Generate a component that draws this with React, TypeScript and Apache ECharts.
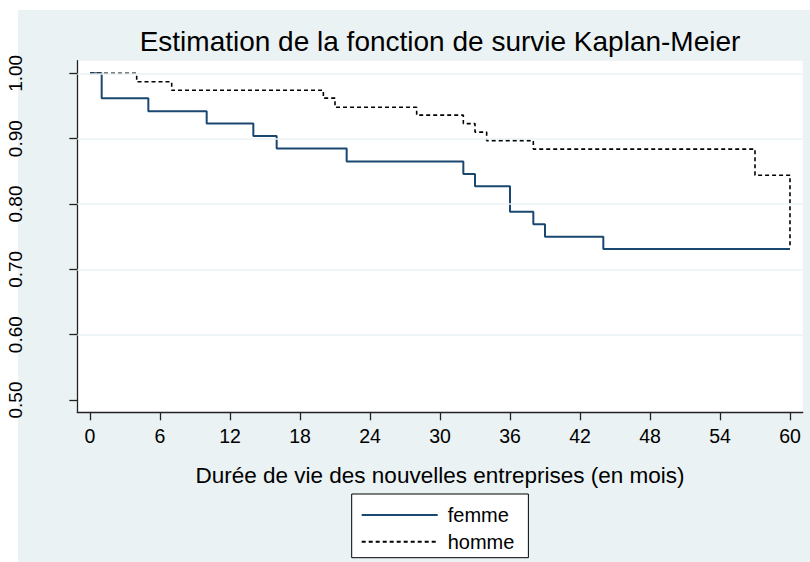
import React, { useEffect, useRef } from "react";
import * as echarts from "echarts";

const femmeTimes = [0, 1, 5, 10, 14, 16, 22, 32, 33, 36, 38, 39, 44, 60];
const femmeSurv = [1, 0.962, 0.942, 0.923, 0.904, 0.885, 0.865, 0.846, 0.827, 0.788, 0.769, 0.75, 0.731, 0.731];
const hommeTimes = [0, 4, 7, 20, 21, 28, 32, 33, 34, 38, 57, 60];
const hommeSurv = [1, 0.987, 0.974, 0.962, 0.948, 0.936, 0.923, 0.91, 0.897, 0.884, 0.844, 0.737];
const xTicks = [0, 6, 12, 18, 24, 30, 36, 42, 48, 54, 60];
const yTicks = [0.5, 0.6, 0.7, 0.8, 0.9, 1.0];
const gridLines = [0.6, 0.7, 0.8, 0.9, 1.0];

const FONT = "'Liberation Sans', Arial, sans-serif";
const BG = "#eaf2f3";

export default function App() {
  const ref = useRef<HTMLDivElement>(null);
  useEffect(() => {
    if (!ref.current) return;
    const chart = echarts.init(ref.current, undefined, { renderer: "svg" });
    chart.setOption({
      animation: false,
      backgroundColor: BG,
      textStyle: { fontFamily: FONT },
      graphic: [
        { type: "rect", z: -100, shape: { x: 0, y: 0, width: 810, height: 10 }, style: { fill: "#ffffff" }, silent: true },
        { type: "rect", z: -100, shape: { x: 0, y: 0, width: 18, height: 562 }, style: { fill: "#ffffff" }, silent: true },
        {
          type: "text",
          x: 440,
          y: 41,
          style: {
            text: "Estimation de la fonction de survie Kaplan-Meier",
            fontSize: 28,
            fontFamily: FONT,
            fill: "#000000",
            textAlign: "center",
            textVerticalAlign: "middle",
          },
        },
      ],
      grid: {
        left: 77.3,
        right: 7.3,
        top: 60.7,
        bottom: 149.7,
        show: true,
        backgroundColor: "#ffffff",
        borderWidth: 0,
      },
      legend: {
        data: ["femme", "homme"],
        orient: "vertical",
        left: 351.7,
        top: 494,
        padding: [11, 14, 6, 9],
        itemGap: 6.7,
        itemWidth: 76,
        itemHeight: 14,
        itemStyle: { opacity: 0 },
        backgroundColor: "#ffffff",
        borderColor: "#000000",
        borderWidth: 1,
        borderRadius: 0,
        textStyle: { fontSize: 20, fontFamily: FONT, color: "#000000", lineHeight: 20, padding: [0, 0, 0, 5] },
      },
      xAxis: {
        type: "value",
        min: -1.09,
        max: 61.09,
        name: "Durée de vie des nouvelles entreprises (en mois)",
        nameLocation: "middle",
        nameGap: 52,
        nameTextStyle: { fontSize: 22.5, fontFamily: FONT, color: "#000000" },
        axisLine: { show: true, onZero: false, lineStyle: { color: "#222222", width: 1.3 } },
        axisTick: { show: true, length: 8, customValues: xTicks, lineStyle: { color: "#222222", width: 1.3 } },
        axisLabel: { customValues: xTicks, fontSize: 19.5, fontFamily: FONT, color: "#000000", margin: 14 },
        splitLine: { show: false },
      },
      yAxis: {
        type: "value",
        min: 0.4812,
        max: 1.0193,
        axisLine: { show: true, onZero: false, lineStyle: { color: "#222222", width: 1.3 } },
        axisTick: { show: true, length: 8, customValues: yTicks, lineStyle: { color: "#222222", width: 1.3 } },
        axisLabel: {
          customValues: yTicks,
          rotate: 90,
          fontSize: 19,
          fontFamily: FONT,
          color: "#000000",
          margin: 52,
          formatter: (v: number) => v.toFixed(2),
        },
        splitLine: { show: false },
      },
      series: [
        {
          name: "grid",
          type: "line",
          data: [],
          z: 1,
          silent: true,
          markLine: {
            silent: true,
            symbol: "none",
            label: { show: false },
            lineStyle: { color: BG, width: 1.6, type: "solid" },
            data: gridLines.map((v) => ({ yAxis: v })),
          },
        },
        {
          name: "femme",
          type: "line",
          step: "end",
          symbol: "none",
          z: 3,
          color: "#1a476f",
          lineStyle: { color: "#1a476f", width: 2 },
          data: femmeTimes.map((t, i) => [t, femmeSurv[i]]),
        },
        {
          name: "homme",
          type: "line",
          step: "end",
          symbol: "none",
          z: 4,
          color: "#000000",
          lineStyle: { color: "#000000", width: 1.6, type: [4, 3] },
          data: hommeTimes.map((t, i) => [t, hommeSurv[i]]),
        },
      ],
    });
    return () => chart.dispose();
  }, []);
  return <div ref={ref} style={{ position: "absolute", left: 0, top: 0, width: 810, height: 562 }} />;
}
